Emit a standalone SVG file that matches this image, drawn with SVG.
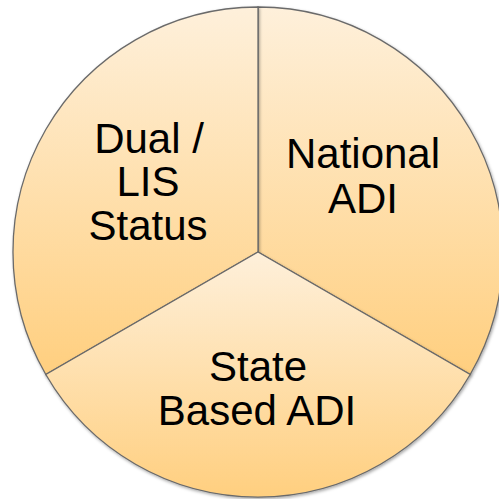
<svg xmlns="http://www.w3.org/2000/svg" width="499" height="499" viewBox="0 0 499 499">
<defs>
<linearGradient id="g" x1="0" y1="0" x2="0" y2="1">
<stop offset="0" stop-color="#FEF0DB"/>
<stop offset="1" stop-color="#FFCF7F"/>
</linearGradient>
<filter id="sh" x="-10%" y="-10%" width="120%" height="120%">
<feDropShadow dx="1" dy="1.5" stdDeviation="1.5" flood-color="#000" flood-opacity="0.35"/>
</filter>
<style>
.slice{fill:url(#g);stroke:#6a6a6a;stroke-width:1.3;filter:url(#sh)}
.lbl{font-family:"Liberation Sans",Arial,sans-serif;font-size:42px;fill:#000;text-anchor:middle}
</style>
</defs>
<rect width="499" height="499" fill="#fff"/>
<g id="national">
<path class="slice" d="M258,252 L258,7 A245,245 0 0 1 470.2,374.5 Z"/>
<text class="lbl" x="363" y="168">National</text>
<text class="lbl" x="363" y="213">ADI</text>
</g>
<g id="dual">
<path class="slice" d="M258,252 L45.8,374.5 A245,245 0 0 1 258,7 Z"/>
<text class="lbl" x="149" y="153">Dual /</text>
<text class="lbl" x="148" y="196">LIS</text>
<text class="lbl" x="148" y="240">Status</text>
</g>
<g id="state">
<path class="slice" d="M258,252 L470.2,374.5 A245,245 0 0 1 45.8,374.5 Z"/>
<text class="lbl" x="258" y="381">State</text>
<text class="lbl" x="257" y="425">Based ADI</text>
</g>
<g id="connectors"/>
</svg>
